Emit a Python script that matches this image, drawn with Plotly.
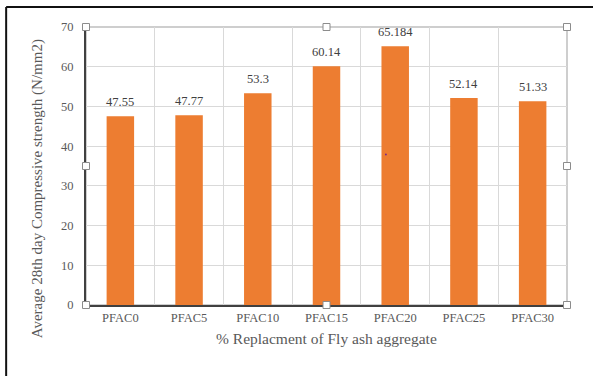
import plotly.graph_objects as go

# Compressive strength results for each fly-ash replacement mix
mixes = ["PFAC0", "PFAC5", "PFAC10", "PFAC15", "PFAC20", "PFAC25", "PFAC30"]
strength = [47.55, 47.77, 53.3, 60.14, 65.184, 52.14, 51.33]
y_ticks = [0, 10, 20, 30, 40, 50, 60, 70]

BAR = "#ED7D31"
TEXT = "#595959"
SERIF = "Liberation Serif, Times New Roman, serif"

fig = go.Figure(
    go.Bar(
        x=mixes,
        y=strength,
        marker=dict(color=BAR, line=dict(width=0)),
        width=0.4,
        hoverinfo="x+y",
    )
)

# value labels above each bar
annotations = [
    dict(x=m, y=v, xref="x", yref="y", text=str(v), showarrow=False,
         yanchor="bottom", yshift=5, font=dict(family=SERIF, size=12.5, color="#404040"))
    for m, v in zip(mixes, strength)
]

# axis titles
annotations.append(dict(
    xref="paper", yref="paper", x=0.5, y=-0.122, yanchor="middle", xanchor="center",
    text="% Replacment of Fly ash aggregate", showarrow=False,
    font=dict(family=SERIF, size=15.5, color=TEXT)))
annotations.append(dict(
    xref="paper", yref="paper", x=-0.1008, y=0.418, xanchor="center", yanchor="middle",
    text="Average 28th day Compressive strength (N/mm2)", textangle=-90, showarrow=False,
    font=dict(family=SERIF, size=15, color=TEXT)))

shapes = [
    # light frame around the plot area
    dict(type="rect", xref="paper", yref="paper", x0=0, x1=1, y0=0, y1=1,
         line=dict(color="#BFBFBF", width=1.5), layer="below"),
    # dark outer border lines (top and left)
    dict(type="line", xref="paper", yref="paper", x0=-0.166, x1=1.1, y0=1.0715, y1=1.0715,
         line=dict(color="#111111", width=2)),
    dict(type="line", xref="paper", yref="paper", x0=-0.166, x1=-0.166, y0=-0.26, y1=1.0715,
         line=dict(color="#111111", width=2)),
    # small stray dot
    dict(type="circle", xref="paper", yref="paper", x0=0.6215, x1=0.6255, y0=0.538, y1=0.545,
         line=dict(width=0), fillcolor="#7a2a8a"),
]

# selection handles at corners and edge midpoints
for hx, hy in [(0, 1), (0.5, 1), (1, 1), (0, 0.5), (1, 0.5), (0, 0), (0.5, 0), (1, 0)]:
    shapes.append(dict(
        type="rect", xref="paper", yref="paper", xsizemode="pixel", ysizemode="pixel",
        xanchor=hx, yanchor=hy, x0=-3.5, x1=3.5, y0=-3.5, y1=3.5,
        fillcolor="white", line=dict(color="#8C8C8C", width=1)))

fig.update_layout(
    width=593, height=376,
    margin=dict(l=86, r=26, t=27, b=71),
    paper_bgcolor="white",
    plot_bgcolor="white",
    showlegend=False,
    bargap=0.6,
    annotations=annotations,
    shapes=shapes,
    xaxis=dict(
        type="category",
        tickson="boundaries",
        showgrid=True, gridcolor="#D9D9D9", gridwidth=1,
        showline=True, linecolor="#404040", linewidth=2,
        ticks="", ticklen=0,
        tickfont=dict(family=SERIF, size=12.5, color=TEXT),
        zeroline=False,
    ),
    yaxis=dict(
        range=[0, 70],
        tickvals=y_ticks,
        showgrid=True, gridcolor="#D9D9D9", gridwidth=1,
        showline=True, linecolor="#404040", linewidth=2,
        ticks="outside", ticklen=8, tickcolor="rgba(0,0,0,0)",
        tickfont=dict(family=SERIF, size=12.5, color=TEXT),
        zeroline=False,
    ),
)

fig.write_html("out.html")
